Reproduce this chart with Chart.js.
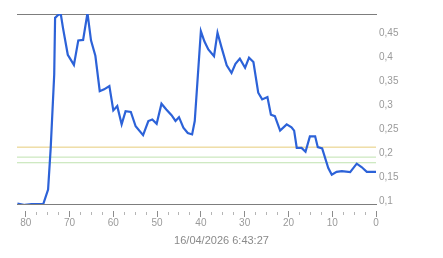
<!DOCTYPE html>
<html>
<head>
<meta charset="utf-8">
<script src="https://cdn.jsdelivr.net/npm/chart.js@4/dist/chart.umd.min.js"></script>
<style>
    html, body { margin: 0; padding: 0; background: #fff; }
    canvas { display: block; }
</style>
</head>
<body>
<canvas id="chart" width="443" height="258"></canvas>
<script>
// --- Data ---
var caption = '16/04/2026 6:43:27';
var xValues = [81.9, 80.2, 78.7, 76.0, 74.9, 74.3, 73.5, 73.3, 72.6, 72.0, 71.5, 70.4, 69.0, 68.0,
    66.9, 65.9, 65.1, 64.1, 63.1, 62.1, 60.9, 60.0, 59.1, 58.1, 57.2, 56.0, 54.9, 53.2, 52.0, 51.1,
    50.1, 49.0, 47.9, 46.7, 45.8, 45.0, 44.0, 43.0, 42.0, 41.4, 40.0, 39.2, 38.3, 37.0, 36.2, 35.3,
    34.1, 33.0, 32.1, 31.1, 29.9, 29.0, 28.0, 26.9, 26.0, 24.8, 24.0, 23.1, 21.9, 20.4, 19.3, 18.7,
    18.1, 17.0, 16.1, 15.1, 13.9, 13.3, 12.3, 10.9, 10.1, 9.0, 7.8, 5.9, 4.4, 3.3, 2.1, 0];
var yValues = [0.095, 0.092, 0.094, 0.094, 0.124, 0.211, 0.364, 0.482, 0.488, 0.49, 0.461, 0.405, 0.384, 0.435,
    0.436, 0.492, 0.435, 0.403, 0.329, 0.333, 0.34, 0.289, 0.298, 0.26, 0.2875, 0.286, 0.256, 0.2375, 0.267, 0.27,
    0.261, 0.303, 0.291, 0.279, 0.267, 0.275, 0.253, 0.242, 0.239, 0.267, 0.454, 0.433, 0.416, 0.402, 0.451, 0.421,
    0.383, 0.367, 0.386, 0.397, 0.378, 0.399, 0.39, 0.326, 0.312, 0.317, 0.28, 0.277, 0.247, 0.26, 0.254, 0.247,
    0.211, 0.211, 0.203, 0.235, 0.235, 0.2125, 0.21, 0.169, 0.155, 0.161, 0.1625, 0.1604, 0.178, 0.171, 0.161, 0.161];
var limitValues = [0.2125, 0.1917, 0.18];
var limitColors = ['#e6cc7a', '#bfe2b0', '#bfe2b0'];
var xMin = 0, xMax = 82;
var yMin = 0.094, yMax = 0.49;

function onStep(v, step) {
    return Math.abs(v / step - Math.round(v / step)) < 1e-6;
}

var series = xValues.map(function (x, i) { return { x: x, y: yValues[i] }; });

var datasets = limitValues.map(function (v, i) {
    return {
        data: [{ x: xMin, y: v }, { x: xMax, y: v }],
        borderColor: limitColors[i],
        borderWidth: 1,
        pointRadius: 0,
        order: 2
    };
});
datasets.push({
    data: series,
    borderColor: '#2c62d8',
    borderWidth: 2.2,
    pointRadius: 0,
    tension: 0,
    order: 1
});

// caption below the axis, centred on the whole canvas
var captionPlugin = {
    id: 'caption',
    afterDraw: function (chart) {
        var ctx = chart.ctx;
        ctx.save();
        ctx.font = '11px "Liberation Sans", Arial, sans-serif';
        ctx.fillStyle = '#8a8a8a';
        ctx.textAlign = 'center';
        ctx.textBaseline = 'middle';
        ctx.fillText(caption, chart.width / 2, 241);
        ctx.restore();
    }
};

var tickFont = { family: '"Liberation Sans", Arial, sans-serif', size: 10 };

new Chart(document.getElementById('chart'), {
    type: 'line',
    data: { datasets: datasets },
    plugins: [captionPlugin],
    options: {
        responsive: false,
        animation: false,
        layout: { padding: { left: 17, top: 14, right: 0, bottom: 0 } },
        plugins: { legend: { display: false }, tooltip: { enabled: false } },
        scales: {
            x: {
                type: 'linear',
                reverse: true,
                min: xMin,
                max: xMax,
                afterBuildTicks: function (axis) {
                    axis.ticks = axis.ticks.filter(function (t) { return onStep(t.value, 2.5); });
                },
                afterFit: function (axis) { axis.height = 54; },
                ticks: {
                    stepSize: 2.5,
                    includeBounds: false,
                    autoSkip: false,
                    maxRotation: 0,
                    padding: 0,
                    color: '#9a9a9a',
                    font: tickFont,
                    callback: function (v) { return onStep(v, 10) ? String(v) : ''; }
                },
                grid: {
                    drawOnChartArea: false,
                    tickLength: 13,
                    tickWidth: 1,
                    tickColor: function (c) { return onStep(c.tick.value, 10) ? '#8c8c8c' : '#b5b5b5'; },
                    tickBorderDash: function (c) { return onStep(c.tick.value, 10) ? [0, 6, 7, 20] : [0, 7, 3, 20]; }
                },
                border: { color: '#7d7d7d', width: 1 }
            },
            x2: {
                type: 'linear',
                position: 'top',
                afterFit: function (axis) { axis.height = 0; },
                ticks: { display: false },
                grid: { drawOnChartArea: false, drawTicks: false },
                border: { color: '#7d7d7d', width: 1 }
            },
            y: {
                position: 'right',
                min: yMin,
                max: yMax,
                afterBuildTicks: function (axis) {
                    axis.ticks = axis.ticks.filter(function (t) { return onStep(t.value, 0.05); });
                },
                afterFit: function (axis) { axis.width = 67; },
                ticks: {
                    stepSize: 0.05,
                    includeBounds: false,
                    padding: 3,
                    color: '#9a9a9a',
                    font: tickFont,
                    callback: function (v) {
                        return String(Math.round(v * 100) / 100).replace('.', ',');
                    }
                },
                grid: { display: false, drawTicks: false },
                border: { display: false }
            }
        }
    }
});
</script>
</body>
</html>
